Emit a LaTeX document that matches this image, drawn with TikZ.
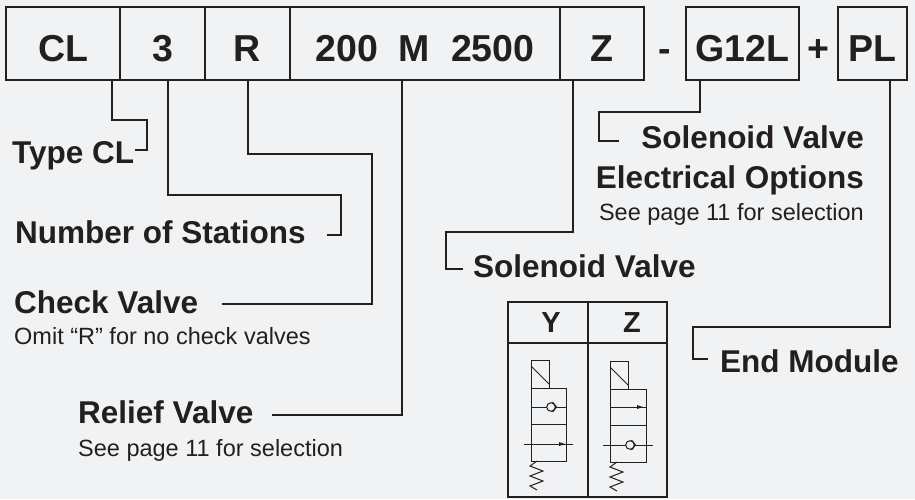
\documentclass[tikz,border=0pt]{standalone}
\usepackage{fontspec}
\setmainfont{Liberation Sans}
\definecolor{bg}{RGB}{241,242,244}
\definecolor{ink}{RGB}{35,31,32}
\newcommand\chkball[2]{%
  \filldraw[fill=bg] (#1,#2) circle (4.3pt);
  \draw (#1+1.5,#2-5) -- (#1+5.5,#2) -- (#1+1.5,#2+5);}
\newcommand\flowtip[2]{%
  \fill (#1,#2) -- (#1-6,#2-2) -- (#1-6,#2+2) -- cycle;}
\begin{document}
\begin{tikzpicture}[x=1pt,y=-1pt,
  every node/.style={text=ink},
  codebox/.style={draw=ink, line width=2pt, minimum height=73pt, inner sep=0pt,
    text height=35pt, text depth=0pt, font=\fontsize{37.5}{40}\selectfont\bfseries},
  codesep/.style={inner sep=0pt, anchor=base, font=\fontsize{37.5}{40}\selectfont\bfseries},
  lbl/.style={inner sep=0pt, font=\fontsize{31.5}{34}\selectfont\bfseries},
  sub/.style={inner sep=0pt, font=\fontsize{23.5}{26}\selectfont},
  hdr/.style={inner sep=0pt, anchor=base, font=\fontsize{29}{30}\selectfont\bfseries},
  conn/.style={draw=ink, line width=2pt},
  sym/.style={draw=ink, line width=1pt}]
\fill[bg] (0,0) rectangle (915,499);
\useasboundingbox (0,0) rectangle (915,499);

% code boxes
\node[codebox, minimum width=114pt] (bCL) at (63,43.5) {CL};
\node[codebox, minimum width=85pt] (b3) at (162.5,43.5) {3};
\node[codebox, minimum width=85pt] (bR) at (247.5,43.5) {R};
\node[codebox, minimum width=270pt] (bM) at (425,43.5) {200\ \ M\ \ 2500};
\node[codebox, minimum width=84pt] (bZ) at (602,43.5) {Z};
\node[codesep] (dash) at (665,61) {-};
\node[codebox, minimum width=113pt] (bG) at (742.5,43.5) {G12L};
\node[codesep] (plus) at (818.5,61) {+};
\node[codebox, minimum width=69pt] (bP) at (872.5,43.5) {PL};

% labels
\node[lbl, anchor=base west] (tCL) at (12,163) {Type CL};
\node[lbl, anchor=base west] (tNS) at (15,243) {Number of Stations};
\node[lbl, anchor=base west] (tCV) at (14,313) {Check Valve};
\node[sub, anchor=base west] (sCV) at (14,344) {Omit “R” for no check valves};
\node[lbl, anchor=base west] (tRV) at (78,423) {Relief Valve};
\node[sub, anchor=base west] (sRV) at (78,456) {See page 11 for selection};
\node[lbl, anchor=base east] (tSE1) at (864,148) {Solenoid Valve};
\node[lbl, anchor=base east] (tSE2) at (864,188) {Electrical Options};
\node[sub, anchor=base east] (sSE) at (864,220) {See page 11 for selection};
\node[lbl, anchor=base west] (tSV) at (473,277) {Solenoid Valve};
\node[lbl, anchor=base west] (tEM) at (720,372) {End Module};

% connector bends and ends
\coordinate (k1) at (147,120); \coordinate (e1) at (135,150);
\coordinate (k2) at (341,195); \coordinate (e2) at (327,235);
\coordinate (k3) at (372,154); \coordinate (e3) at (222,304);
\coordinate (e4) at (272,415);
\coordinate (k5) at (446,232); \coordinate (e5) at (463,269);
\coordinate (k6) at (599,112); \coordinate (e6) at (619,141);
\coordinate (k7) at (693,327); \coordinate (e7) at (708,359);

\draw[conn] ([xshift=49pt]bCL.south) |- (k1) |- (e1);
\draw[conn] ([xshift=5.5pt]b3.south) |- (k2) |- (e2);
\draw[conn] ([xshift=0.5pt]bR.south) |- (k3) |- (e3);
\draw[conn] ([xshift=-23pt]bM.south) |- (e4);
\draw[conn] ([xshift=-29pt]bZ.south) |- (k5) |- (e5);
\draw[conn] ([xshift=-42.5pt]bG.south) |- (k6) |- (e6);
\draw[conn] ([xshift=17.5pt]bP.south) |- (k7) |- (e7);

% valve table
\draw[draw=ink, line width=2pt] (508,302) rectangle (667,497);
\draw[draw=ink, line width=2pt] (508,343) -- (667,343);
\draw[draw=ink, line width=2pt] (588,302) -- (588,497);
\node[hdr] (hY) at (551,332) {Y};
\node[hdr] (hZ) at (632,332) {Z};

% Y symbol
\begin{scope}[sym, fill=ink]
\draw (531,360) rectangle (549,388);
\draw (531,366) -- (549,384);
\draw (531,388) rectangle (566,461);
\draw (531,424) -- (566,424);
\draw (531,407) -- (566,407);
\chkball{551}{407}
\draw (524,444) -- (573,444);
\flowtip{565}{444}
\draw (537,461) -- (530,466) -- (543,471) -- (530,476) -- (543,481) -- (530,486) -- (537,490);
\end{scope}

% Z symbol
\begin{scope}[sym, fill=ink]
\draw (610,361) rectangle (628,389);
\draw (610,367) -- (628,385);
\draw (610,389) rectangle (646,462);
\draw (610,425) -- (646,425);
\draw (610,407) -- (646,407);
\flowtip{643}{407}
\draw (603,445) -- (653,445);
\chkball{630}{445}
\draw (617,462) -- (610,467) -- (623,472) -- (610,477) -- (623,482) -- (610,487) -- (617,491);
\end{scope}
\end{tikzpicture}
\end{document}
